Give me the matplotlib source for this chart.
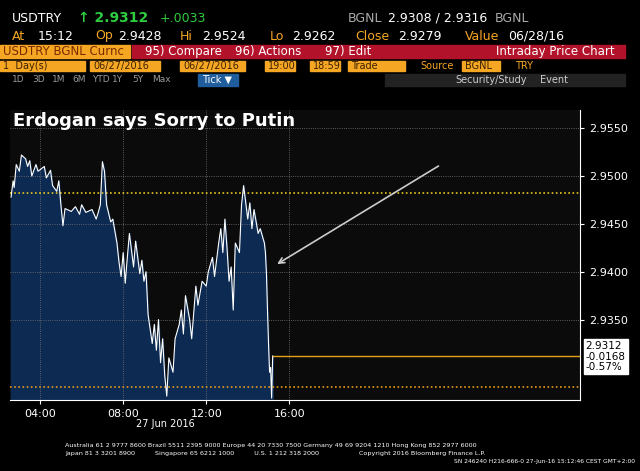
import matplotlib.pyplot as plt
from matplotlib.patches import Rectangle

# intraday ticks, hours since midnight 27 Jun 2016
hours = [2.6, 2.7, 2.75, 2.85, 3.0, 3.1, 3.3, 3.4, 3.5, 3.6, 3.8, 3.9, 4.2, 4.3, 4.5, 4.6, 4.8, 4.9,
         5.0, 5.1, 5.2, 5.5, 5.7, 5.9, 6.0, 6.2, 6.5, 6.7, 6.8, 6.9, 7.0, 7.1, 7.2, 7.4, 7.5, 7.7,
         7.8, 7.9, 8.0, 8.1, 8.2, 8.3, 8.5, 8.6, 8.8, 8.9, 9.0, 9.1, 9.2, 9.3, 9.4, 9.5, 9.6, 9.7,
         9.8, 9.9, 10.0, 10.1, 10.2, 10.4, 10.5, 10.7, 10.8, 10.9, 11.0, 11.2, 11.3, 11.5, 11.6,
         11.8, 12.0, 12.1, 12.3, 12.4, 12.6, 12.7, 12.8, 12.9, 13.0, 13.1, 13.2, 13.3, 13.4, 13.6,
         13.7, 13.8, 14.0, 14.1, 14.2, 14.3, 14.5, 14.6, 14.8, 14.85, 14.9, 14.95, 15.0, 15.05,
         15.1, 15.15, 15.2]
price = [2.9478, 2.9495, 2.9488, 2.9512, 2.9505, 2.9522, 2.9518, 2.9510, 2.9516, 2.9500, 2.9512,
         2.9505, 2.9510, 2.9498, 2.9506, 2.9490, 2.9484, 2.9495, 2.9470, 2.9448, 2.9466, 2.9463,
         2.9468, 2.9460, 2.9470, 2.9462, 2.9465, 2.9455, 2.9462, 2.9470, 2.9515, 2.9505, 2.9470,
         2.9452, 2.9455, 2.9430, 2.9410, 2.9395, 2.9420, 2.9388, 2.9415, 2.9440, 2.9405, 2.9432,
         2.9398, 2.9412, 2.9390, 2.9400, 2.9355, 2.9340, 2.9325, 2.9345, 2.9318, 2.9350, 2.9305,
         2.9330, 2.9292, 2.9270, 2.9310, 2.9295, 2.9330, 2.9345, 2.9360, 2.9335, 2.9375, 2.9350,
         2.9330, 2.9385, 2.9365, 2.9390, 2.9385, 2.9400, 2.9415, 2.9395, 2.9430, 2.9445, 2.9420,
         2.9455, 2.9425, 2.9390, 2.9405, 2.9360, 2.9430, 2.9420, 2.9470, 2.9490, 2.9455, 2.9472,
         2.9445, 2.9465, 2.9440, 2.9445, 2.9430, 2.9420, 2.9398, 2.9360, 2.9325, 2.9295, 2.9300,
         2.9268, 2.9312]

y_ticks = [2.9350, 2.9400, 2.9450, 2.9500, 2.9550]
x_ticks = [4, 8, 12, 16]
x_labels = ["04:00", "08:00", "12:00", "16:00"]
last, chg, pct = 2.9312, "-0.0168", "-0.57%"
prev_level, close_level = 2.9482, 2.9280

W, H = 640, 471
fig = plt.figure(figsize=(6.4, 4.71), dpi=100, facecolor="black")


def fx(x):
    return x / W


def fy(y):
    return 1 - y / H


def bar(x0, y0, x1, y1, color):
    fig.patches.append(Rectangle((fx(x0), fy(y1)), fx(x1 - x0), (y1 - y0) / H,
                                 transform=fig.transFigure, color=color, zorder=1))


def txt(x, y, s, color="white", size=8, **kw):
    fig.text(fx(x), fy(y), s, color=color, fontsize=size, va="center", **kw)


# header
txt(12, 18, "USDTRY", size=9)
txt(78, 18, "↑ 2.9312", color="#2ecc40", size=10, weight="bold")
txt(160, 18, "+.0033", color="#2ecc40", size=9)
txt(348, 18, "BGNL", color="#aaaaaa", size=9)
txt(388, 18, "2.9308 / 2.9316", size=9)
txt(495, 18, "BGNL", color="#aaaaaa", size=9)
txt(12, 36, "At", color="#f5a623", size=9)
txt(38, 36, "15:12", size=9)
txt(95, 36, "Op", color="#f5a623", size=9)
txt(118, 36, "2.9428", size=9)
txt(180, 36, "Hi", color="#f5a623", size=9)
txt(202, 36, "2.9524", size=9)
txt(270, 36, "Lo", color="#f5a623", size=9)
txt(292, 36, "2.9262", size=9)
txt(355, 36, "Close", color="#f5a623", size=9)
txt(398, 36, "2.9279", size=9)
txt(465, 36, "Value", color="#f5a623", size=9)
txt(508, 36, "06/28/16", size=9)

bar(0, 45, 130, 58, "#f5a623")
txt(3, 51.5, "USDTRY BGNL Curnc", color="#7a2a00", size=8.5)
bar(132, 45, 625, 58, "#b3122b")
txt(145, 51.5, "95) Compare", size=8.5)
txt(235, 51.5, "96) Actions", size=8.5)
txt(325, 51.5, "97) Edit", size=8.5)
txt(615, 51.5, "Intraday Price Chart", size=8.5, ha="right")
for a, b, s in [(0, 85, "1  Day(s)"), (90, 160, "06/27/2016"), (180, 245, "06/27/2016"),
                (265, 295, "19:00"), (310, 340, "18:59"), (348, 405, "Trade"), (462, 500, "BGNL")]:
    bar(a, 61, b, 71, "#f5a623")
    txt(a + 3, 66, s, color="#3a2000", size=7)
txt(420, 66, "Source", color="#f5a623", size=7)
txt(515, 66, "TRY", color="#f5a623", size=7)
btns = ["1D", "3D", "1M", "6M", "YTD", "1Y", "5Y", "Max"]
for i, s in enumerate(btns):
    txt(12 + i * 20, 80, s, color="#999999", size=6.5)
bar(198, 74, 238, 86, "#1f5d9c")
txt(202, 80, "Tick ▼", size=7)
bar(385, 74, 625, 86, "#222222")
txt(455, 80, "Security/Study", color="#cccccc", size=7)
txt(540, 80, "Event", color="#cccccc", size=7)

# chart
ax = fig.add_axes([fx(10), fy(400), fx(570), 290 / H])
ax.set_facecolor("#0b0b0b")
ax.set_xlim(2.55, 30)
ax.set_ylim(2.9266, 2.9569)
ax.fill_between(hours, price, 2.9266, color="#0c2a52", zorder=1)
ax.plot(hours, price, color="white", lw=0.8, zorder=3)
ax.axhline(prev_level, color="#e6c619", ls=(0, (1, 1.5)), lw=1.2, zorder=2)
ax.axhline(close_level, color="#e69a19", ls=(0, (1, 1.5)), lw=1.2, zorder=2)
ax.plot([hours[-1], 30], [last, last], color="#e6a019", lw=1, zorder=2)
ax.set_yticks(y_ticks)
ax.set_xticks(x_ticks)
ax.set_xticklabels(x_labels)
ax.grid(color="#777777", ls=":", lw=0.6)
ax.yaxis.tick_right()
ax.tick_params(colors="white", labelsize=8, length=3)
for s in ["top", "left"]:
    ax.spines[s].set_visible(False)
ax.spines["right"].set_color("white")
ax.spines["bottom"].set_color("white")
ax.yaxis.set_major_formatter(plt.FuncFormatter(lambda v, p: f"{v:.4f}"))
ax.text(2.7, 2.9552, "Erdogan says Sorry to Putin", color="white", fontsize=13, weight="bold")
ax.annotate("", xy=(15.3, 2.94065), xytext=(23.3, 2.9512),
            arrowprops=dict(arrowstyle="->", color="#cccccc", lw=1.2))
ax.text(1.01, 0.15, f"{last}\n{chg}\n{pct}", transform=ax.transAxes, color="black",
        fontsize=7.5, ha="left", va="center", linespacing=1.1,
        bbox=dict(boxstyle="square,pad=0.2", fc="white", ec="white"))
txt(165, 424, "27 Jun 2016", color="white", size=7, ha="center")

txt(65, 446, "Australia 61 2 9777 8600 Brazil 5511 2395 9000 Europe 44 20 7330 7500 Germany 49 69 9204 1210 Hong Kong 852 2977 6000",
    size=4.6)
txt(65, 454, "Japan 81 3 3201 8900          Singapore 65 6212 1000          U.S. 1 212 318 2000"
    "                    Copyright 2016 Bloomberg Finance L.P.", size=4.6)
txt(635, 462, "SN 246240 H216-666-0 27-Jun-16 15:12:46 CEST GMT+2:00", size=4.3, ha="right")

fig.savefig("out.png", dpi=100, facecolor="black")
